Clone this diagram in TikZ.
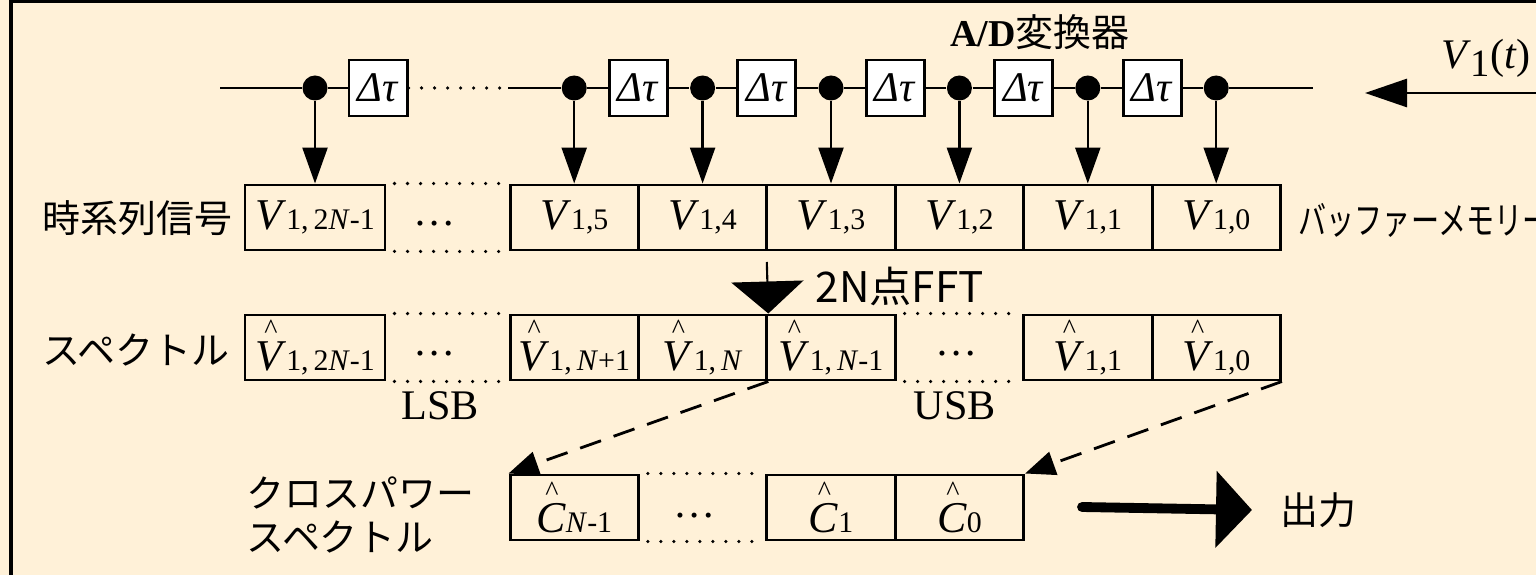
\documentclass[tikz,border=0pt]{standalone}
\usepackage{fontspec}
\setmainfont{Liberation Serif}
\newfontfamily\jpf{Noto Sans CJK JP}
\usetikzlibrary{arrows.meta,positioning}
\definecolor{paper}{RGB}{255,241,216}
\newcommand\sbs[1]{{\fontsize{8.5}{9}\selectfont #1}}
\newcommand\hatv[2]{\makebox[0pt][l]{\makebox[0.72em][c]{\raisebox{0.72em}{\fontsize{8}{8}\selectfont\textasciicircum}}}\textit{#1}\sbs{#2}}
\begin{document}
\begin{tikzpicture}[>=Triangle,
    cell/.style={draw, line width=0.85pt, minimum width=1.284cm, minimum height=0.65cm, inner sep=0pt, font=\fontsize{12.5}{14}\selectfont},
    wcell/.style={cell, minimum width=1.40cm},
    dly/.style={draw, line width=0.85pt, fill=white, minimum width=0.58cm, minimum height=0.56cm, inner sep=0pt, font=\fontsize{12}{12}\selectfont},
    tap/.style={circle, fill, inner sep=0pt, minimum size=0.25cm},
    lbl/.style={font=\jpf\fontsize{10.8}{12.5}\selectfont, inner sep=0pt},
    sl/.style={font=\fontsize{12}{13}\selectfont, inner sep=0pt},
    dotrow/.style={line width=1pt, line cap=round, dash pattern=on 0pt off 3.7pt},
    drop/.style={line width=0.7pt, -{Triangle[width=0.25cm,length=0.36cm]}},
    dsh/.style={line width=0.8pt, dash pattern=on 6.3pt off 3.8pt, -{Triangle[width=0.24cm,length=0.30cm]}}]
  \useasboundingbox (0,0) rectangle (15.36,-5.75);
  \fill[paper] (0,0) rectangle (15.36,-5.75);
  \draw[line width=0.9pt] (0.11,-5.9) -- (0.11,-0.015) -- (15.5,-0.015);

  % delay line of the A/D converter
  \node[tap] (t7) at (3.15,-0.88) {};
  \node[dly] (dA) at (3.78,-0.88) {\textit{Δτ}};
  \node[tap] (t5) at (5.742,-0.88) {};
  \node[dly] (dB) at (6.384,-0.88) {\textit{Δτ}};
  \node[tap] (t4) at (7.026,-0.88) {};
  \node[dly] (dC) at (7.668,-0.88) {\textit{Δτ}};
  \node[tap] (t3) at (8.31,-0.88) {};
  \node[dly] (dD) at (8.952,-0.88) {\textit{Δτ}};
  \node[tap] (t2) at (9.594,-0.88) {};
  \node[dly] (dE) at (10.236,-0.88) {\textit{Δτ}};
  \node[tap] (t1) at (10.878,-0.88) {};
  \node[dly] (dF) at (11.52,-0.88) {\textit{Δτ}};
  \node[tap] (t0) at (12.162,-0.88) {};
  \coordinate (lin) at (2.20,-0.88);
  \coordinate (gapL) at (5.05,-0.88);
  \coordinate (gapR) at (5.08,-0.88);
  \coordinate (lout) at (13.13,-0.88);
  \draw[line width=0.7pt] (lin) -- (t7) -- (dA);
  \draw[dotrow] (dA) -- (gapL);
  \draw[line width=0.7pt] (gapR) -- (t5) -- (dB) -- (t4) -- (dC) -- (t3) -- (dD) -- (t2) -- (dE) -- (t1) -- (dF) -- (t0) -- (lout);
  \node[font=\bfseries\fontsize{10.8}{12}\selectfont] (adc) at (10.40,-0.32) {A/D{\jpf\mdseries 変換器}};
  \node[font=\fontsize{12}{14}\selectfont] (vlab) at (14.86,-0.58) {\textit{V}\raisebox{-0.45ex}{\fontsize{11}{12}\selectfont 1}(\textit{t})};
  \coordinate (vin) at (15.45,-0.93);
  \coordinate (vtip) at (13.65,-0.93);
  \draw[line width=0.8pt, -{Triangle[width=0.28cm,length=0.42cm]}] (vin) -- (vtip);

  % buffer memory
  \node[wcell] (v7) at (3.15,-2.175) {\textit{V}\sbs{1,\,2\textit{N}-1}};
  \node[cell] (v5) at (5.742,-2.175) {\textit{V}\sbs{1,5}};
  \node[cell] (v4) at (7.026,-2.175) {\textit{V}\sbs{1,4}};
  \node[cell] (v3) at (8.31,-2.175) {\textit{V}\sbs{1,3}};
  \node[cell] (v2) at (9.594,-2.175) {\textit{V}\sbs{1,2}};
  \node[cell] (v1) at (10.878,-2.175) {\textit{V}\sbs{1,1}};
  \node[cell] (v0) at (12.162,-2.175) {\textit{V}\sbs{1,0}};
  \draw[dotrow] ([xshift=0.08cm]v7.north east) -- ([xshift=-0.06cm]v5.north west);
  \draw[dotrow] ([xshift=0.08cm]v7.south east) -- ([xshift=-0.06cm]v5.south west);
  \node[sl] (e1) at (4.35,-2.24) {\ldots};
  \draw[drop] (t7) -- (v7);
  \draw[drop] (t5) -- (v5);
  \draw[drop] (t4) -- (v4);
  \draw[drop] (t3) -- (v3);
  \draw[drop] (t2) -- (v2);
  \draw[drop] (t1) -- (v1);
  \draw[drop] (t0) -- (v0);
  \node[lbl, anchor=east] (ts) at (2.33,-2.18) {時系列信号};
  \node[lbl, anchor=west] (buf) at (12.98,-2.20) {\scalebox{0.74}[1]{バッファーメモリー}};

  % spectrum
  \node[wcell] (s7) at (3.15,-3.475) {\hatv{V}{1,\,2\textit{N}-1}};
  \node[cell] (sA) at (5.742,-3.475) {\hatv{V}{1,\,\textit{N}+1}};
  \node[cell] (sB) at (7.026,-3.475) {\hatv{V}{1,\,\textit{N}}};
  \node[cell] (sC) at (8.31,-3.475) {\hatv{V}{1,\,\textit{N}-1}};
  \node[cell] (s1) at (10.878,-3.475) {\hatv{V}{1,1}};
  \node[cell] (s0) at (12.162,-3.475) {\hatv{V}{1,0}};
  \draw[dotrow] ([xshift=0.08cm]s7.north east) -- ([xshift=-0.06cm]sA.north west);
  \draw[dotrow] ([xshift=0.08cm]s7.south east) -- ([xshift=-0.06cm]sA.south west);
  \draw[dotrow] ([xshift=0.08cm]sC.north east) -- ([xshift=-0.06cm]s1.north west);
  \draw[dotrow] ([xshift=0.08cm]sC.south east) -- ([xshift=-0.06cm]s1.south west);
  \node[sl] (e2) at (4.35,-3.54) {\ldots};
  \node[sl] (e3) at (9.57,-3.54) {\ldots};
  \node[sl] (lsb) at (4.40,-4.06) {LSB};
  \node[sl] (usb) at (9.55,-4.06) {USB};
  \node[lbl, anchor=east] (sp) at (2.30,-3.50) {スペクトル};
  \coordinate (fftin) at (7.668,-2.62);
  \draw[line width=0.6pt, -{Triangle[width=0.72cm,length=0.32cm]}] (fftin) -- (sB.north east);
  \node[font=\jpf\fontsize{12}{13}\selectfont, anchor=west, inner sep=0pt] (fft) at (8.15,-2.86) {2N点FFT};

  % cross power spectrum
  \node[cell] (cA) at (5.742,-5.075) {\hatv{C}{\textit{N}-1}};
  \node[cell] (cB) at (8.31,-5.075) {\hatv{C}{1}};
  \node[cell] (cC) at (9.594,-5.075) {\hatv{C}{0}};
  \draw[dotrow] ([xshift=0.08cm]cA.north east) -- ([xshift=-0.06cm]cB.north west);
  \draw[dotrow] ([xshift=0.08cm]cA.south east) -- ([xshift=-0.06cm]cB.south west);
  \node[sl] (e4) at (6.95,-5.16) {\ldots};
  \node[lbl, anchor=west, align=left] (cps) at (2.46,-5.15) {クロスパワー\\スペクトル};
  \draw[dsh] (sB.south east) -- (cA.north west);
  \draw[dsh] (s0.south east) -- (cC.north east);
  \node[lbl, anchor=west] (outl) at (12.80,-5.10) {出力};
  \coordinate (oS) at (10.82,-5.07);
  \draw[line width=2.8pt, line cap=round, -{Triangle[width=0.75cm,length=0.36cm]}] (oS) -- ([xshift=-0.28cm]outl.west);
\end{tikzpicture}
\end{document}
